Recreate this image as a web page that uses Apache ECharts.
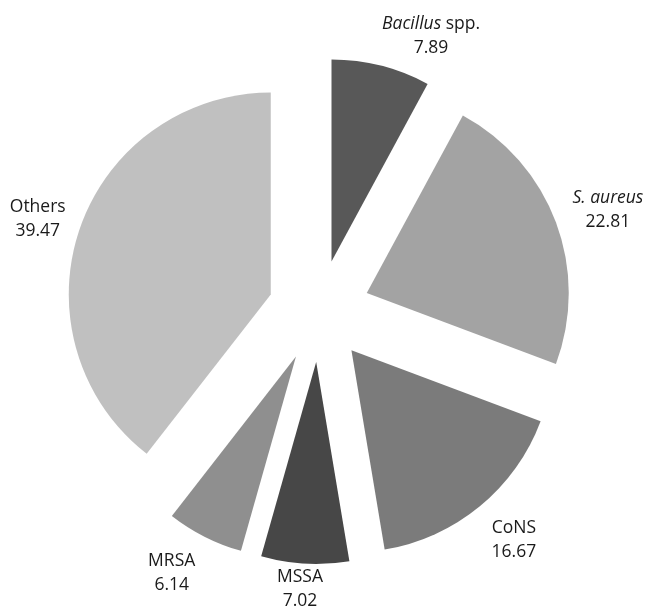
<!DOCTYPE html>
<html>
<head>
<meta charset="utf-8">
<script src="https://cdn.jsdelivr.net/npm/echarts@6/dist/echarts.min.js"></script>
<style>
  html, body { margin: 0; padding: 0; background: #ffffff; }
  #chart { width: 646px; height: 607px; }
</style>
</head>
<body>
<div id="chart"></div>
<script>
// ---- data ----
const categories = ['Bacillus spp.', 'S. aureus', 'CoNS', 'MSSA', 'MRSA', 'Others'];
const values = [7.89, 22.81, 16.67, 7.02, 6.14, 39.47];
const labelTexts = ['{i|Bacillus} spp.', '{i|S. aureus}', 'CoNS', 'MSSA', 'MRSA', 'Others'];

// ---- styles / layout ----
const colors = ['#585858', '#a3a3a3', '#7b7b7b', '#474747', '#8f8f8f', '#c0c0c0'];
const labelNudge = [[50, -30], [52, -12], [34, 34], [-5, 25], [-33, 36], [-42, -10]];
const CX = 319, CY = 311, R = 202, OFF = 51;
const FONT = '"Open Sans", "DejaVu Sans", sans-serif';
const FS = 17.5;

const total = values.reduce((a, b) => a + b, 0);
const cum = [];
values.reduce((acc, v, i) => { cum[i] = acc; return acc + v; }, 0);

function labelAnchor(i) {
  const th = (cum[i] + values[i] / 2) / total * Math.PI * 2;
  const d = R + OFF;
  return [CX + d * Math.sin(th) + labelNudge[i][0], CY - d * Math.cos(th) + labelNudge[i][1]];
}

const chart = echarts.init(document.getElementById('chart'));
chart.setOption({
  animation: false,
  backgroundColor: '#ffffff',
  series: [{
    type: 'pie',
    center: [CX, CY],
    radius: R,
    startAngle: 90,
    clockwise: true,
    selectedMode: 'multiple',
    selectedOffset: OFF,
    itemStyle: { borderWidth: 0 },
    select: { itemStyle: { borderWidth: 0 } },
    emphasis: { disabled: true },
    label: { show: false },
    labelLine: { show: false },
    data: categories.map((c, i) => ({
      name: c,
      value: values[i],
      selected: true,
      itemStyle: { color: colors[i] },
      select: { itemStyle: { color: colors[i], borderWidth: 0 } }
    }))
  }, {
    type: 'custom',
    coordinateSystem: 'none',
    silent: true,
    data: values.map((v, i) => [i, v]),
    renderItem: (params, api) => {
      const i = params.dataIndex;
      const a = labelAnchor(i);
      return {
        type: 'text',
        x: a[0],
        y: a[1],
        style: {
          text: labelTexts[i] + '\n' + values[i].toFixed(2),
          align: 'center',
          verticalAlign: 'middle',
          fill: '#1a1a1a',
          font: FS + 'px ' + FONT,
          lineHeight: 24,
          rich: {
            i: { fontStyle: 'italic', fontFamily: FONT, fontSize: FS, lineHeight: 24, fill: '#1a1a1a' }
          }
        }
      };
    }
  }]
});
</script>
</body>
</html>
